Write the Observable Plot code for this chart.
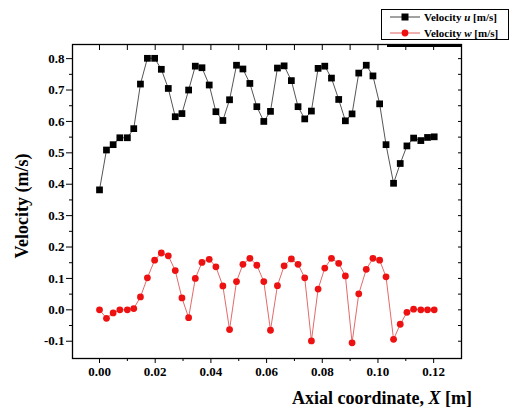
<!DOCTYPE html>
<html><head><meta charset="utf-8">
<script src="https://cdn.jsdelivr.net/npm/d3@7"></script>
<script src="https://cdn.jsdelivr.net/npm/@observablehq/plot@0.6"></script>
<style>
body{margin:0;background:#fff;}
#wrap{position:relative;width:509px;height:407px;overflow:hidden;font-family:'Liberation Serif','Times New Roman',serif;font-weight:bold;color:#000;}
#xtitle{position:absolute;right:37px;top:388px;font-size:18px;white-space:nowrap;}
#ytitle{position:absolute;left:22px;top:206px;font-size:18px;white-space:nowrap;transform:translate(-50%,-50%) rotate(-90deg);}
#legend{position:absolute;left:381px;top:9px;}
#topbar{position:absolute;left:387px;top:44px;width:74px;height:3px;background:#000;}
</style></head><body><div id="wrap"></div><script>
// Axial coordinate X [m]
const axialX = [0.0000,0.0025,0.0049,0.0073,0.0100,0.0123,0.0147,0.0172,0.0198,0.0222,
  0.0247,0.0272,0.0296,0.0320,0.0344,0.0368,0.0394,0.0418,0.0443,0.0467,
  0.0492,0.0515,0.0540,0.0565,0.0590,0.0614,0.0639,0.0663,0.0689,0.0713,
  0.0737,0.0761,0.0785,0.0809,0.0833,0.0859,0.0883,0.0907,0.0931,0.0958,
  0.0982,0.1006,0.1029,0.1056,0.1080,0.1104,0.1128,0.1154,0.1178,0.1202];
// Velocity u [m/s]
const velocityU = [0.382,0.509,0.526,0.548,0.548,0.577,0.719,0.801,0.801,0.766,
  0.705,0.615,0.625,0.700,0.776,0.771,0.716,0.631,0.603,0.669,
  0.779,0.767,0.721,0.647,0.600,0.632,0.770,0.777,0.730,0.647,
  0.608,0.633,0.769,0.776,0.738,0.670,0.602,0.624,0.754,0.779,
  0.745,0.656,0.526,0.403,0.466,0.522,0.547,0.539,0.549,0.551];
// Velocity w [m/s]
const velocityW = [0.000,-0.027,-0.010,0.000,0.000,0.004,0.041,0.102,0.158,0.181,
  0.172,0.125,0.038,-0.025,0.100,0.151,0.161,0.137,0.076,-0.063,
  0.090,0.145,0.164,0.142,0.090,-0.065,0.077,0.140,0.162,0.145,
  0.102,-0.099,0.066,0.133,0.164,0.148,0.108,-0.105,0.051,0.129,
  0.164,0.158,0.105,-0.094,-0.046,-0.008,0.002,0.000,0.000,0.000];

const xTicks = [0,0.02,0.04,0.06,0.08,0.10,0.12];
const xMinorTicks = [0.01,0.03,0.05,0.07,0.09,0.11];
const yTicks = [-0.1,0.0,0.1,0.2,0.3,0.4,0.5,0.6,0.7,0.8];
const yMinorTicks = [-0.05,0.05,0.15,0.25,0.35,0.45,0.55,0.65,0.75];
const seriesNames = ["u","w"];

const dataU = axialX.map((x,i)=>({x, v: velocityU[i]}));
const dataW = axialX.map((x,i)=>({x, v: velocityW[i]}));
const none = () => "";

const plot = Plot.plot({
  width: 509, height: 407,
  marginLeft: 72, marginRight: 48, marginTop: 44, marginBottom: 49,
  style: {fontFamily:"'Liberation Serif','Times New Roman',serif", fontSize:"13px", fontWeight:"bold", background:"transparent", color:"black"},
  x: {domain:[-0.0097, 0.130]},
  y: {domain:[-0.155, 0.845]},
  marks: [
    Plot.axisX(xTicks, {tickSize:5, tickPadding:3, tickFormat: d=>d.toFixed(2), label:null}),
    Plot.axisX(xMinorTicks, {tickSize:3, tickFormat: none, label:null}),
    Plot.axisX(xTicks.concat(xMinorTicks), {anchor:"top", tickSize:-5, tickFormat: none, label:null}),
    Plot.axisY(yTicks, {tickSize:6, tickPadding:2, tickFormat: d=>d.toFixed(1), label:null}),
    Plot.axisY(yMinorTicks, {tickSize:3, tickFormat: none, label:null}),
    Plot.axisY(yTicks.concat(yMinorTicks), {anchor:"right", tickSize:-4, tickFormat: none, label:null}),
    Plot.frame({stroke:"black", strokeWidth:1.3}),
    Plot.line(dataU, {x:"x", y:"v", stroke:"#555", strokeWidth:1}),
    Plot.dot(dataU, {x:"x", y:"v", symbol:"square", r:3.8, fill:"black", stroke:"none"}),
    Plot.line(dataW, {x:"x", y:"v", stroke:"#e46a6a", strokeWidth:1}),
    Plot.dot(dataW, {x:"x", y:"v", r:3.4, fill:"#ee1111", stroke:"none"})
  ]
});
const wrap = document.getElementById("wrap");
wrap.appendChild(plot);

const bar = document.createElement("div");
bar.id = "topbar";
wrap.appendChild(bar);

const xt = document.createElement("div");
xt.id = "xtitle";
xt.innerHTML = "Axial coordinate, <i>X</i> [m]";
wrap.appendChild(xt);
const yt = document.createElement("div");
yt.id = "ytitle";
yt.textContent = "Velocity (m/s)";
wrap.appendChild(yt);

// legend
const lg = d3.select(wrap).append("svg").attr("id","legend").attr("width",128).attr("height",32)
  .style("font-family","'Liberation Serif','Times New Roman',serif").style("font-weight","bold").style("font-size","11px");
lg.append("rect").attr("x",0.5).attr("y",0.5).attr("width",127).attr("height",30).attr("fill","white").attr("stroke","black");
const items = [{s:seriesNames[0], c:"black", lc:"#444", sq:true},{s:seriesNames[1], c:"#ee1111", lc:"#e06060", sq:false}];
items.forEach((it,i)=>{
  const y = 8 + i*16;
  lg.append("line").attr("x1",9).attr("x2",39).attr("y1",y).attr("y2",y).attr("stroke",it.lc);
  if (it.sq) lg.append("rect").attr("x",20.5).attr("y",y-3.5).attr("width",7).attr("height",7).attr("fill",it.c);
  else lg.append("circle").attr("cx",24).attr("cy",y).attr("r",3.4).attr("fill",it.c);
  const t = lg.append("text").attr("x",43).attr("y",y+4);
  t.append("tspan").text("Velocity ");
  t.append("tspan").attr("font-style","italic").text(it.s);
  t.append("tspan").text(" [m/s]");
});
</script></body></html>
